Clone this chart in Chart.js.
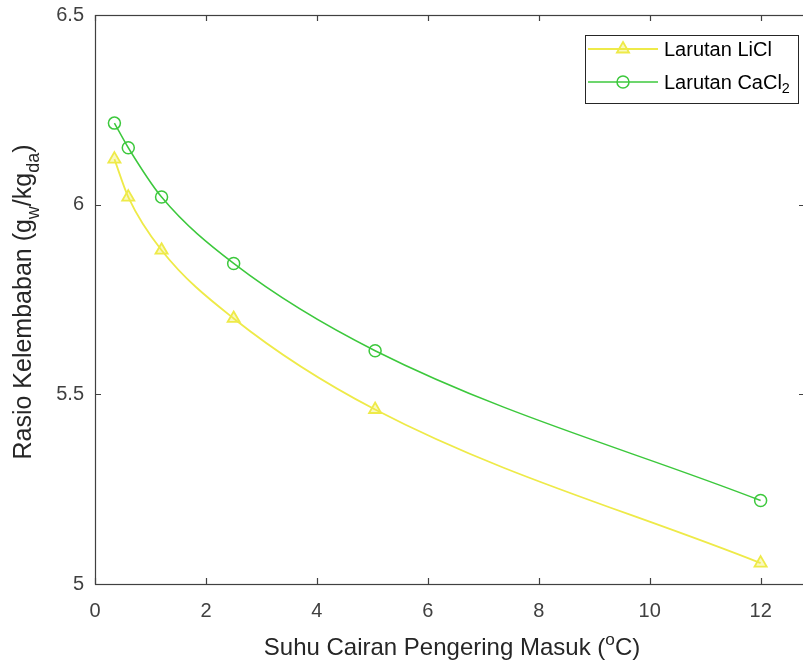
<!DOCTYPE html>
<html>
<head>
<meta charset="utf-8">
<script src="https://cdn.jsdelivr.net/npm/chart.js@4"></script>
<style>
  html, body { margin: 0; padding: 0; background: #fff; overflow: hidden; }
  #wrap { width: 820px; height: 661px; }
</style>
</head>
<body>
<div id="wrap"><canvas id="chart" width="820" height="661"></canvas></div>
<script>
// data
const suhu = [0.35, 0.6, 1.2, 2.5, 5.05, 12];
const licl = [6.12, 6.02, 5.88, 5.70, 5.46, 5.055];
const cacl2 = [6.215, 6.15, 6.02, 5.845, 5.615, 5.22];
const xTicks = [0, 2, 4, 6, 8, 10, 12];
const yTicks = [5, 5.5, 6, 6.5];

const YELLOW = '#eeea48';
const GREEN = '#3cc83c';
const AXIS = '#404040';
const FONT = 'Arial, "Liberation Sans", sans-serif';

function pts(ys) {
  return suhu.map((x, i) => ({ x: x, y: ys[i] }));
}

// text with sub/superscript pieces: [text, shift] shift 0 normal, 1 sub, -1 sup
function richWidth(ctx, parts, size) {
  let w = 0;
  parts.forEach(p => {
    ctx.font = (p[1] ? size * 0.72 : size) + 'px ' + FONT;
    w += ctx.measureText(p[0]).width;
  });
  return w;
}
function drawRich(ctx, parts, x, y, size) {
  parts.forEach(p => {
    ctx.font = (p[1] ? size * 0.72 : size) + 'px ' + FONT;
    const dy = p[1] === 1 ? size * 0.3 : (p[1] === -1 ? -size * 0.4 : 0);
    ctx.fillText(p[0], x, y + dy);
    x += ctx.measureText(p[0]).width;
  });
}

const frame = {
  id: 'frame',
  afterDraw(chart) {
    const ctx = chart.ctx;
    const a = chart.chartArea;
    const xs = chart.scales.x, ys = chart.scales.y;
    ctx.save();
    ctx.strokeStyle = AXIS;
    ctx.lineWidth = 1.2;
    ctx.strokeRect(a.left + 0.5, a.top + 0.5, a.right - a.left, a.bottom - a.top);
    ctx.beginPath();
    xTicks.forEach(v => {
      const px = Math.round(xs.getPixelForValue(v)) + 0.5;
      ctx.moveTo(px, a.bottom); ctx.lineTo(px, a.bottom - 6);
      ctx.moveTo(px, a.top); ctx.lineTo(px, a.top + 6);
    });
    yTicks.forEach(v => {
      const py = Math.round(ys.getPixelForValue(v)) + 0.5;
      ctx.moveTo(a.left, py); ctx.lineTo(a.left + 6, py);
      ctx.moveTo(a.right, py); ctx.lineTo(a.right - 6, py);
    });
    ctx.stroke();

    // axis titles
    ctx.fillStyle = '#262626';
    ctx.textBaseline = 'alphabetic';
    const tSize = 24;
    const xt = [['Suhu Cairan Pengering Masuk (', 0], ['o', -1], ['C)', 0]];
    const xw = richWidth(ctx, xt, tSize);
    drawRich(ctx, xt, 452 - xw / 2, 655, tSize);

    const yt = [['Rasio Kelembaban (g', 0], ['w', 1], ['/kg', 0], ['da', 1], [')', 0]];
    const yw = richWidth(ctx, yt, 25);
    ctx.save();
    ctx.translate(31, 302);
    ctx.rotate(-Math.PI / 2);
    drawRich(ctx, yt, -yw / 2, 0, 25);
    ctx.restore();

    // legend box
    const bx = 585, by = 35, bw = 213, bh = 68;
    ctx.fillStyle = '#fff';
    ctx.fillRect(bx, by, bw, bh);
    ctx.strokeStyle = '#262626';
    ctx.lineWidth = 1;
    ctx.strokeRect(bx + 0.5, by + 0.5, bw, bh);
    const rows = [
      { ds: chart.data.datasets[0], y: 49, parts: [['Larutan LiCl', 0]] },
      { ds: chart.data.datasets[1], y: 82, parts: [['Larutan CaCl', 0], ['2', 1]] }
    ];
    rows.forEach(r => {
      ctx.strokeStyle = r.ds.borderColor;
      ctx.fillStyle = r.ds.backgroundColor;
      ctx.lineWidth = r.ds.borderWidth;
      ctx.beginPath();
      ctx.moveTo(588, r.y); ctx.lineTo(658, r.y);
      ctx.stroke();
      ctx.lineWidth = r.ds.pointBorderWidth;
      Chart.helpers.drawPoint(ctx, {
        pointStyle: r.ds.pointStyle,
        radius: r.ds.pointRadius,
        borderWidth: r.ds.pointBorderWidth,
        rotation: 0
      }, 623, r.y);
      ctx.fillStyle = '#000';
      ctx.textBaseline = 'middle';
      drawRich(ctx, r.parts, 664, r.y + 1, 20);
    });
    ctx.restore();
  }
};

new Chart(document.getElementById('chart'), {
  type: 'scatter',
  data: {
    datasets: [
      {
        label: 'Larutan LiCl',
        data: pts(licl),
        showLine: true,
        borderColor: YELLOW,
        backgroundColor: 'rgba(238,234,72,0.35)',
        borderWidth: 1.8,
        pointStyle: 'triangle',
        pointRadius: 7,
        pointBorderWidth: 1.8,
        cubicInterpolationMode: 'monotone'
      },
      {
        label: 'Larutan CaCl2',
        data: pts(cacl2),
        showLine: true,
        borderColor: GREEN,
        backgroundColor: 'rgba(255,255,255,0)',
        borderWidth: 1.5,
        pointStyle: 'circle',
        pointRadius: 6,
        pointBorderWidth: 1.5,
        cubicInterpolationMode: 'monotone'
      }
    ]
  },
  options: {
    responsive: false,
    animation: false,
    layout: { padding: { left: 0, top: 15, right: 15, bottom: 0 } },
    plugins: { legend: { display: false }, tooltip: { enabled: false } },
    scales: {
      x: {
        type: 'linear', min: 0, max: 12.8,
        grid: { display: false, drawTicks: false },
        border: { display: false },
        afterBuildTicks: s => { s.ticks = xTicks.map(v => ({ value: v })); },
        afterFit: s => { s.height = 661 - 584; s.paddingLeft = 0; s.paddingRight = 0; },
        ticks: { color: AXIS, padding: 15, font: { size: 20, family: FONT }, callback: v => String(v) }
      },
      y: {
        type: 'linear', min: 5, max: 6.5,
        grid: { display: false, drawTicks: false },
        border: { display: false },
        afterBuildTicks: s => { s.ticks = yTicks.map(v => ({ value: v })); },
        afterFit: s => { s.width = 95; s.paddingTop = 0; s.paddingBottom = 0; },
        ticks: { color: AXIS, padding: 11, font: { size: 20, family: FONT }, callback: v => String(v) }
      }
    }
  },
  plugins: [frame]
});
</script>
</body>
</html>
